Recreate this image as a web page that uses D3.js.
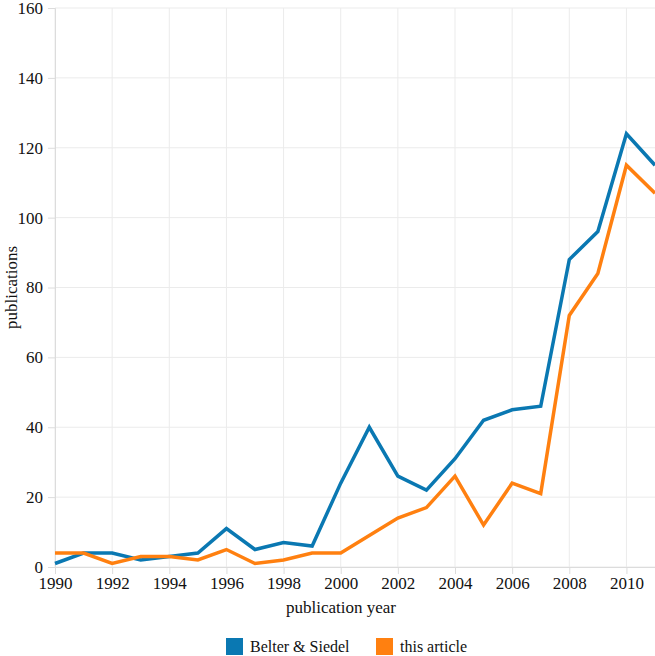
<!DOCTYPE html>
<html><head><meta charset="utf-8">
<script src="https://cdn.jsdelivr.net/npm/d3@7"></script>
<style>body{margin:0;background:#fff}svg{display:block}svg text{font-family:"Liberation Serif","Times New Roman",serif !important}</style>
</head><body><svg id="c" width="655" height="656"></svg>
<script>
const years = [1990,1991,1992,1993,1994,1995,1996,1997,1998,1999,2000,2001,2002,2003,2004,2005,2006,2007,2008,2009,2010,2011];
const belterSiedel = [1,4,4,2,3,4,11,5,7,6,24,40,26,22,31,42,45,46,88,96,124,115];
const thisArticle = [4,4,1,3,3,2,5,1,2,4,4,9,14,17,26,12,24,21,72,84,115,107];
const seriesNames = ["Belter & Siedel","this article"];
const xTicks = [1990,1992,1994,1996,1998,2000,2002,2004,2006,2008,2010];
const yTicks = [0,20,40,60,80,100,120,140,160];
const colors = ["#0a78b2","#ff8010"];
const FONT = "'Liberation Serif', 'Times New Roman', serif";

const svg = d3.select("#c");
const L=55, R=655, T=8, B=567;
const x = d3.scaleLinear().domain([1990,2011]).range([L,R]);
const y = d3.scaleLinear().domain([0,160]).range([B,T]);

// grid
svg.append("g").selectAll("line").data(xTicks).join("line")
  .attr("x1",d=>x(d)).attr("x2",d=>x(d)).attr("y1",T).attr("y2",B)
  .attr("stroke","#ebebeb").attr("stroke-width",1);
svg.append("g").selectAll("line").data(yTicks).join("line")
  .attr("x1",L).attr("x2",R).attr("y1",d=>y(d)).attr("y2",d=>y(d))
  .attr("stroke","#ebebeb").attr("stroke-width",1);

// axes
const xa = svg.append("g").attr("transform",`translate(0,${B})`)
  .call(d3.axisBottom(x).tickValues(xTicks).tickFormat(d3.format("d")).tickSize(7).tickPadding(3));
const ya = svg.append("g").attr("transform",`translate(${L},0)`)
  .call(d3.axisLeft(y).tickValues(yTicks).tickSize(7).tickPadding(5));
[xa,ya].forEach(a=>{
  a.attr("font-family",null).attr("font-size",null);
  a.selectAll("path").attr("stroke","#dcdcdc");
  a.selectAll("line").attr("stroke","#dcdcdc");
  a.selectAll("text").attr("fill","#111")
    .style("font-family",FONT).style("font-size","17px");
});

// lines
const data = [belterSiedel, thisArticle];
const line = d3.line().x((d,i)=>x(years[i])).y(d=>y(d));
svg.append("g").selectAll("path").data(data).join("path")
  .attr("d",line).attr("fill","none")
  .attr("stroke",(d,i)=>colors[i]).attr("stroke-width",3.5)
  .attr("stroke-linejoin","miter");

// titles
svg.append("text").attr("x",341).attr("y",613).attr("text-anchor","middle")
  .style("font-family",FONT).style("font-size","17px").attr("fill","#111").text("publication year");
svg.append("text").attr("transform",`translate(17,${(T+B)/2}) rotate(-90)`).attr("text-anchor","middle")
  .style("font-family",FONT).style("font-size","17px").attr("fill","#111").text("publications");

// legend
const lg = svg.append("g");
const lx = [226,376];
seriesNames.forEach((n,i)=>{
  lg.append("rect").attr("x",lx[i]).attr("y",638).attr("width",17).attr("height",17).attr("fill",colors[i]);
  lg.append("text").attr("x",lx[i]+24).attr("y",652).attr("fill","#111")
    .style("font-family",FONT).style("font-size","16px").text(n);
});
</script></body></html>
